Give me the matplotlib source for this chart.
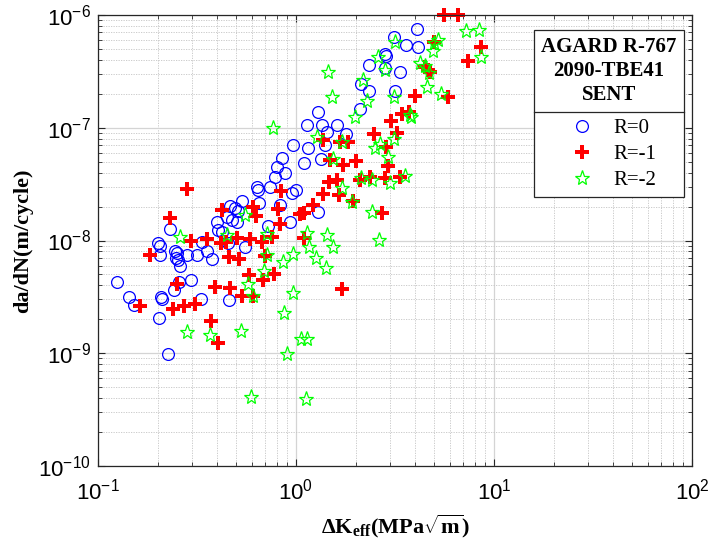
import numpy as np
import matplotlib
matplotlib.use('agg')
import matplotlib.pyplot as plt
from matplotlib.lines import Line2D
from matplotlib.ticker import LogLocator, NullFormatter

# R = 0
r0_dk = [0.125, 0.143, 0.152, 0.203, 0.226, 0.231, 0.201, 0.206, 0.206, 0.245,
         0.251, 0.248, 0.254, 0.260, 0.281, 0.316, 0.335, 0.355, 0.376, 0.256,
         0.242, 0.295, 0.208, 0.210, 0.331, 0.459, 0.399, 0.404, 0.423, 0.448,
         0.475, 0.504, 0.464, 0.492, 0.509, 0.534, 0.454, 0.552, 0.635, 0.739,
         0.650, 0.830, 0.933, 0.722, 0.955, 1.00, 0.85, 0.80, 0.88, 0.78,
         0.643, 0.966, 1.15, 1.34, 1.10, 1.29, 1.29, 1.14, 1.35, 1.43,
         1.61, 1.79, 1.40, 2.13, 2.34, 2.10, 2.34, 2.81, 2.85, 2.81,
         3.35, 3.16, 3.13, 3.59, 4.13, 4.08]
r0_dadn = [4.3e-9, 3.15e-9, 2.67e-9, 2.05e-9, 0.98e-9, 1.26e-8, 9.5e-9, 8.9e-9, 7.4e-9, 8.05e-9,
           7.7e-9, 6.98e-9, 6.7e-9, 5.93e-9, 7.4e-9, 7.4e-9, 9.7e-9, 8.05e-9, 6.84e-9, 4.28e-9,
           3.63e-9, 4.46e-9, 3.15e-9, 3.02e-9, 3.02e-9, 2.96e-9, 1.46e-8, 1.24e-8, 1.19e-8, 1.61e-8,
           1.52e-8, 1.46e-8, 2.02e-8, 1.94e-8, 1.82e-8, 2.24e-8, 9.5e-9, 8.7e-9, 2.98e-8, 2.98e-8,
           2.15e-8, 2.06e-8, 1.46e-8, 1.34e-8, 2.64e-8, 2.8e-8, 5.38e-8, 4.48e-8, 3.96e-8, 3.66e-8,
           2.8e-8, 7.03e-8, 6.6e-8, 5.28e-8, 4.86e-8, 1.79e-8, 1.38e-7, 1.06e-7, 1.06e-7, 9.16e-8,
           1.06e-7, 8.8e-8, 7.03e-8, 2.44e-7, 2.12e-7, 1.47e-7, 3.6e-7, 4.51e-7, 4.33e-7, 3.39e-7,
           3.12e-7, 2.12e-7, 6.38e-7, 5.42e-7, 5.2e-7, 7.5e-7]

# R = -1
r1_dk = [0.163, 0.183, 0.231, 0.281, 0.295, 0.355, 0.423, 0.418, 0.443, 0.459,
         0.515, 0.504, 0.586, 0.607, 0.628, 0.811, 0.840, 0.830, 0.673, 0.756,
         0.697, 0.579, 0.681, 0.774, 0.390, 0.464, 0.534, 0.607, 0.251, 0.239,
         0.272, 0.309, 0.372, 0.404, 1.10, 1.71, 2.72, 2.36, 2.81, 3.35,
         2.92, 2.85, 2.10, 1.47, 1.61, 1.37, 1.65, 1.94, 1.22, 1.05,
         1.10, 2.01, 1.73, 1.49, 1.37, 1.67, 1.83, 2.48, 3.24, 3.02,
         3.43, 3.72, 3.99, 5.86, 4.48, 4.64, 4.75, 4.98, 7.39, 8.60,
         5.59, 6.58]
r1_dadn = [2.62e-9, 7.4e-9, 1.58e-8, 2.86e-8, 1.0e-8, 1.03e-8, 1.86e-8, 9.5e-9, 9.7e-9, 7.13e-9,
           6.84e-9, 1.05e-8, 1.03e-8, 1.98e-8, 1.64e-8, 1.90e-8, 2.74e-8, 1.40e-8, 9.7e-9, 1.07e-8,
           7.27e-9, 4.93e-9, 4.46e-9, 5.04e-9, 3.86e-9, 3.78e-9, 3.21e-9, 3.21e-9, 4.1e-9, 2.46e-9,
           2.62e-9, 2.73e-9, 1.93e-9, 1.23e-9, 1.05e-8, 3.71e-9, 1.75e-8, 3.66e-8, 3.58e-8, 3.66e-8,
           4.57e-8, 6.74e-8, 3.44e-8, 3.3e-8, 3.44e-8, 2.58e-8, 2.53e-8, 2.24e-8, 2.06e-8, 1.71e-8,
           1.75e-8, 5.07e-8, 4.67e-8, 5.17e-8, 7.78e-8, 7.46e-8, 7.46e-8, 8.8e-8, 8.97e-8, 1.15e-7,
           1.32e-7, 1.38e-7, 1.91e-7, 1.87e-7, 3.46e-7, 3.25e-7, 3.12e-7, 5.75e-7, 3.91e-7, 5.2e-7,
           1.0e-6, 1.0e-6]

# R = -2
r2_dk = [7.22, 8.40, 8.60, 5.21, 4.98, 4.92, 4.23, 4.48, 4.70, 4.59,
         5.40, 3.16, 2.59, 2.81, 1.45, 2.18, 1.52, 3.13, 2.28, 1.99,
         3.81, 3.77, 1.28, 1.71, 2.65, 2.51, 3.13, 2.92, 1.54, 2.13,
         2.42, 2.98, 3.55, 1.71, 1.92, 2.42, 2.62, 0.765, 0.260, 0.448,
         0.552, 0.714, 1.14, 1.43, 1.16, 1.54, 0.966, 0.86, 1.26, 1.42,
         0.714, 0.689, 0.572, 0.607, 0.966, 0.87, 0.281, 0.368, 0.527, 1.06,
         1.14, 0.90, 0.593, 1.12]
r2_dadn = [7.21e-7, 7.36e-7, 4.24e-7, 6.0e-7, 5.65e-7, 4.8e-7, 3.75e-7, 3.53e-7, 3.06e-7, 2.3e-7,
           1.99e-7, 5.75e-7, 4.24e-7, 3.25e-7, 3.12e-7, 2.65e-7, 1.87e-7, 1.87e-7, 1.73e-7, 1.24e-7,
           1.24e-7, 1.30e-7, 8.26e-8, 7.46e-8, 7.16e-8, 6.6e-8, 7.94e-8, 5.5e-8, 5.28e-8, 3.58e-8,
           3.44e-8, 3.23e-8, 3.72e-8, 2.92e-8, 2.19e-8, 1.79e-8, 1.01e-8, 9.94e-8, 1.07e-8, 1.12e-8,
           1.68e-8, 1.14e-8, 1.16e-8, 1.12e-8, 8.7e-9, 8.7e-9, 7.57e-9, 6.43e-9, 6.98e-9, 5.69e-9,
           7.4e-9, 5.35e-9, 4.1e-9, 3.21e-9, 3.41e-9, 2.27e-9, 1.54e-9, 1.45e-9, 1.57e-9, 1.33e-9,
           1.33e-9, 9.8e-10, 4.07e-10, 3.92e-10]

plt.rcParams['font.family'] = ['Liberation Sans', 'DejaVu Sans']
plt.rcParams['mathtext.fontset'] = 'custom'
plt.rcParams['mathtext.rm'] = 'Liberation Sans'
plt.rcParams['mathtext.bf'] = 'Liberation Serif:bold'
plt.rcParams['mathtext.default'] = 'regular'

fig = plt.figure(figsize=(7.11, 5.48), dpi=100)
ax = fig.add_axes([0.1378, 0.1496, 0.8354, 0.8230])

ax.loglog(r0_dk, r0_dadn, 'o', ms=8.5, mfc='none', mec='#0000ff', mew=0.9, clip_on=False, label='R=0')
ax.loglog(r1_dk, r1_dadn, 'P', ms=9.5, color='#ff0000', mew=0, clip_on=False, label='R=-1')
ax.loglog(r2_dk, r2_dadn, '*', ms=11, mfc='none', mec='#00ff00', mew=0.9, clip_on=False, label='R=-2')

ax.set_xlim(0.1, 100)
ax.set_ylim(1e-10, 1e-6)
ax.xaxis.set_major_locator(LogLocator(base=10, numticks=10))
ax.yaxis.set_major_locator(LogLocator(base=10, numticks=10))
ax.xaxis.set_minor_locator(LogLocator(base=10, subs=np.arange(2, 10), numticks=20))
ax.yaxis.set_minor_locator(LogLocator(base=10, subs=np.arange(2, 10), numticks=20))
ax.xaxis.set_minor_formatter(NullFormatter())
ax.yaxis.set_minor_formatter(NullFormatter())

# matlab style grid
ax.set_axisbelow(True)
ax.grid(which='major', color='#d4d4d4', lw=0.9, ls='-')
ax.grid(which='minor', color='#c4c4c4', lw=0.6, ls=(0, (1.5, 1.5)))
ax.tick_params(which='both', direction='in', top=True, right=True, color='#262626', labelsize=16)
ax.tick_params(axis='x', which='major', length=5, pad=9)
ax.tick_params(axis='y', which='major', length=5, pad=5)
ax.tick_params(which='minor', length=3)
for s in ax.spines.values():
    s.set_color('#262626')
    s.set_linewidth(0.9)

ax.set_xlabel(r'$\mathbf{\Delta K_{eff}(MPa\sqrt{m})}$', fontsize=16, labelpad=6)
ax.set_ylabel('da/dN(m/cycle)', family='Liberation Serif', weight='bold', fontsize=16, labelpad=4)

leg = ax.legend(title='AGARD R-767\n2090-TBE41\nSENT', loc='upper left',
                bbox_to_anchor=(534 / 711, 1 - 30 / 548), bbox_transform=fig.transFigure,
                prop={'family': 'Liberation Serif', 'size': 15},
                title_fontproperties={'family': 'Liberation Serif', 'weight': 'bold', 'size': 15},
                fancybox=False, edgecolor='#262626', framealpha=1, borderaxespad=0,
                handlelength=2, handletextpad=0.5, labelspacing=0.3, borderpad=0.35)
leg.get_title().set_multialignment('center')
leg.get_title().set_linespacing(1.25)
leg.get_frame().set_linewidth(0.9)
# more room between title and entries for the divider
leg._legend_box.sep = 10

# separator under the legend title
fig.canvas.draw()
rend = fig.canvas.get_renderer()
tb = leg.get_title().get_window_extent(rend)
hb = leg._legend_handle_box.get_window_extent(rend)
fb = leg.get_frame().get_window_extent(rend)
W, H = fig.canvas.get_width_height()
ysep = (tb.y0 + hb.y1) / 2 / H
fig.add_artist(Line2D([fb.x0 / W, fb.x1 / W], [ysep, ysep], color='#262626', lw=0.9))

fig.savefig('out.png', dpi=100)
